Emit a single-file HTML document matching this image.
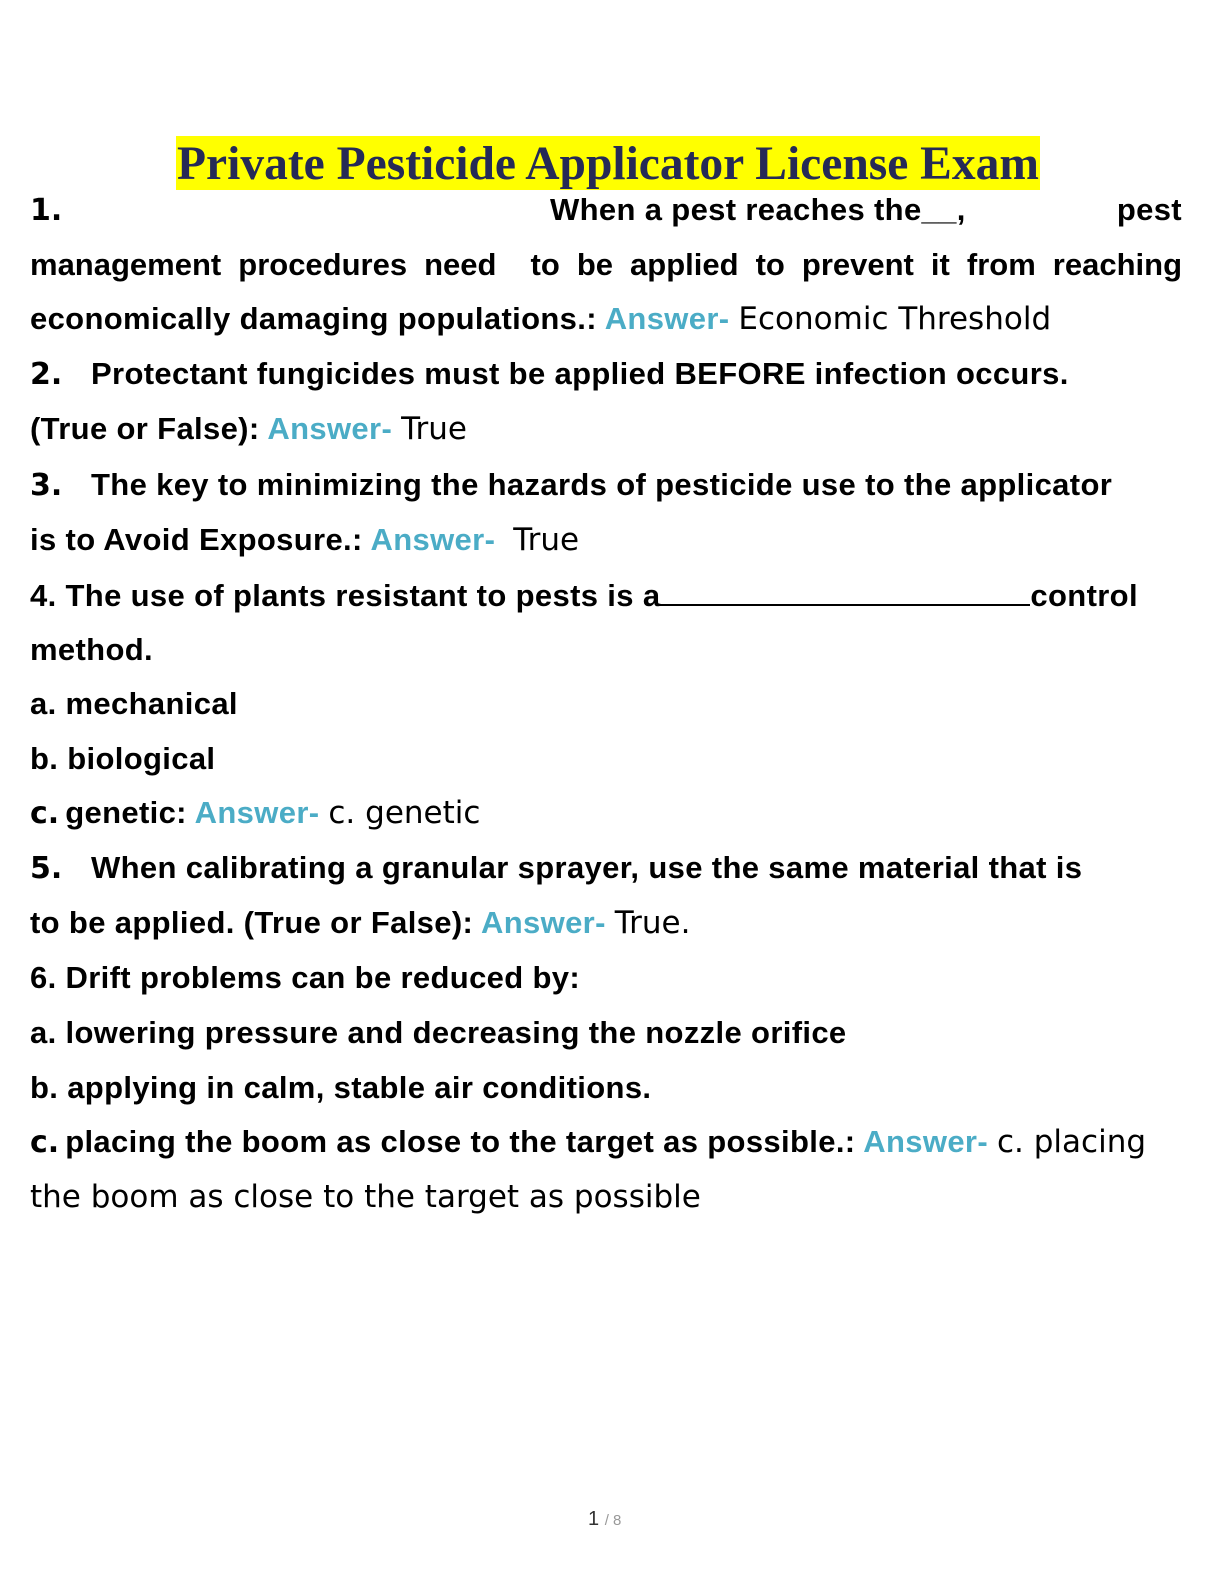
<!DOCTYPE html>
<html><head><meta charset="utf-8">
<style>
html,body{margin:0;padding:0;background:#fff;}
body{width:1224px;height:1584px;position:relative;overflow:hidden;}
.l{position:absolute;left:30px;white-space:nowrap;height:40px;line-height:40px;font-family:"Liberation Sans",Arial,sans-serif;font-weight:bold;font-size:31px;letter-spacing:0.35px;color:#000;}
.n{font-family:"DejaVu Sans",sans-serif;font-weight:bold;font-size:30px;letter-spacing:0;}
.c{margin-right:6px;}
.a{color:#4bacc6;}
.r{font-family:"DejaVu Sans",sans-serif;font-weight:normal;font-size:31px;letter-spacing:0;}
.title{position:absolute;left:176px;top:136px;width:864px;height:54px;background:#ffff00;font-family:"Liberation Serif",serif;font-weight:bold;font-size:47.5px;line-height:56px;color:#252a56;text-align:center;white-space:nowrap;}
.j{width:1152px;text-align:justify;text-align-last:justify;letter-spacing:0;}
</style></head><body>
<div class="title">Private Pesticide Applicator License Exam</div>
<div class="l" style="top:190px;width:1152px"><span class="n">1.</span><span style="position:absolute;left:520px">When a pest reaches the__,</span><span style="position:absolute;right:0">pest</span></div>
<div class="l j" style="top:245px">management procedures need &nbsp;to be applied to prevent it from reaching</div>
<div class="l" style="top:299px">economically damaging populations.: <span class="a">Answer-</span> <span class="r">Economic Threshold</span></div>
<div class="l" style="top:354px"><span class="n">2.</span><span style="position:absolute;left:61px">Protectant fungicides must be applied BEFORE infection occurs.</span></div>
<div class="l" style="top:409px">(True or False): <span class="a">Answer-</span> <span class="r">True</span></div>
<div class="l" style="top:465px"><span class="n">3.</span><span style="position:absolute;left:61px">The key to minimizing the hazards of pesticide use to the applicator</span></div>
<div class="l" style="top:520px">is to Avoid Exposure.: <span class="a">Answer-</span> &nbsp;<span class="r">True</span></div>
<div class="l" style="top:576px">4. The use of plants resistant to pests is a<span style="display:inline-block;width:370px;border-bottom:2px solid #000;height:28px;vertical-align:baseline"></span>control</div>
<div class="l" style="top:630px">method.</div>
<div class="l" style="top:684px">a. mechanical</div>
<div class="l" style="top:739px">b. biological</div>
<div class="l" style="top:793px"><span class="n c">c.</span>genetic: <span class="a">Answer-</span> <span class="r">c. genetic</span></div>
<div class="l" style="top:848px"><span class="n">5.</span><span style="position:absolute;left:61px">When calibrating a granular sprayer, use the same material that is</span></div>
<div class="l" style="top:903px">to be applied. (True or False): <span class="a">Answer-</span> <span class="r">True.</span></div>
<div class="l" style="top:958px">6. Drift problems can be reduced by:</div>
<div class="l" style="top:1013px">a. lowering pressure and decreasing the nozzle orifice</div>
<div class="l" style="top:1068px">b. applying in calm, stable air conditions.</div>
<div class="l" style="top:1122px"><span class="n c">c.</span>placing the boom as close to the target as possible.: <span class="a">Answer-</span> <span class="r">c. placing</span></div>
<div class="l" style="top:1177px"><span class="r">the boom as close to the target as possible</span></div>
<div style="position:absolute;left:588px;top:1508px;font-family:'Liberation Sans',sans-serif;font-size:20px;color:#333">1 <span style="font-size:15px;color:#999">/ 8</span></div>
</body></html>
